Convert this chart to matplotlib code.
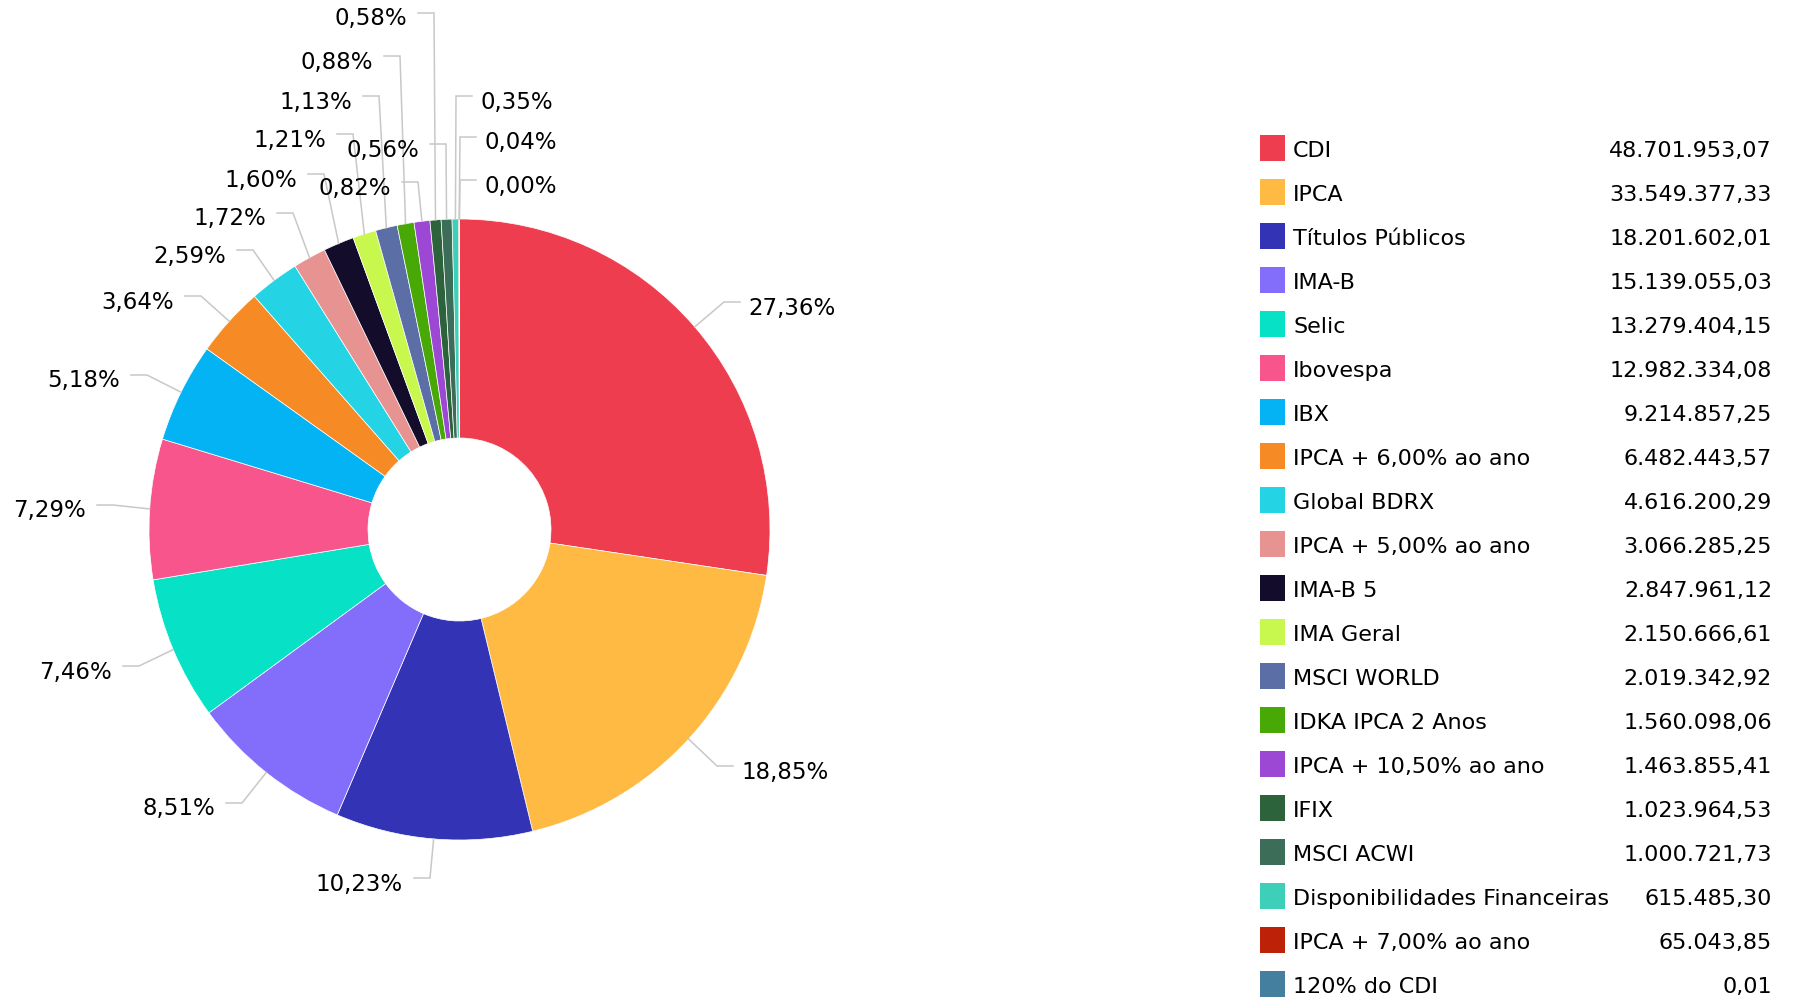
import matplotlib
matplotlib.use("Agg")
import matplotlib.pyplot as plt
from matplotlib.patches import Rectangle
import numpy as np

# carteira por indexador
names = ['CDI', 'IPCA', 'Títulos Públicos', 'IMA-B', 'Selic', 'Ibovespa', 'IBX',
         'IPCA + 6,00% ao ano', 'Global BDRX', 'IPCA + 5,00% ao ano', 'IMA-B 5',
         'IMA Geral', 'MSCI WORLD', 'IDKA IPCA 2 Anos', 'IPCA + 10,50% ao ano',
         'IFIX', 'MSCI ACWI', 'Disponibilidades Financeiras', 'IPCA + 7,00% ao ano',
         '120% do CDI']
values = [48701953.07, 33549377.33, 18201602.01, 15139055.03, 13279404.15,
          12982334.08, 9214857.25, 6482443.57, 4616200.29, 3066285.25,
          2847961.12, 2150666.61, 2019342.92, 1560098.06, 1463855.41,
          1023964.53, 1000721.73, 615485.30, 65043.85, 0.01]
colors = ['#EF3D50', '#FFBA44', '#3333B6', '#836EFB', '#07E2C6', '#F8558D',
          '#03B3F3', '#F68B25', '#25D4E4', '#E69392', '#130C2A', '#C8F84E',
          '#5B6FA6', '#47A806', '#9D48D4', '#2C633A', '#3C6D58', '#3DCFB7',
          '#BD2108', '#457F9F']

# where each label's connector starts (pixels from top-left) and which side the text sits
label_pos = [(740, 302), (733, 766), (414, 878), (226, 803), (123, 666),
             (97, 505), (131, 375), (185, 296), (237, 250), (277, 213),
             (308, 174), (337, 134), (363, 96), (384, 56), (402, 182),
             (418, 13), (430, 144), (472, 96), (476, 137), (476, 180)]
label_side = ['R', 'R', 'L', 'L', 'L', 'L', 'L', 'L', 'L', 'L',
              'L', 'L', 'L', 'L', 'L', 'L', 'L', 'R', 'R', 'R']

W, H = 1801, 1000
cx, cy = 459.5, H - 529.5
r_out, r_in = 310.5, 91.5


def br(v, dec=2):
    s = f"{v:,.{dec}f}"
    return s.replace(',', 'X').replace('.', ',').replace('X', '.')


fig = plt.figure(figsize=(W / 100, H / 100), dpi=100)
ax = fig.add_axes([0, 0, 1, 1])

wedges, _ = ax.pie(values, colors=colors, startangle=90, counterclock=False,
                   center=(cx, cy), radius=r_out,
                   wedgeprops=dict(width=r_out - r_in, linewidth=0.5, edgecolor='white'))
ax.set_xlim(0, W)
ax.set_ylim(0, H)
ax.set_aspect('auto')
ax.axis('off')

total = sum(values)
for w, v, (lx, ly), side in zip(wedges, values, label_pos, label_side):
    mid = np.deg2rad((w.theta1 + w.theta2) / 2)
    ex = cx + r_out * np.cos(mid)
    ey = cy + r_out * np.sin(mid)
    ly = H - ly
    bx = lx - 16 if side == 'R' else lx + 16
    ax.plot([lx, bx, ex], [ly, ly, ey], color='#c8c8c8', lw=1.1,
            solid_joinstyle='miter', zorder=1)
    txt = br(v / total * 100) + '%'
    if side == 'R':
        ax.text(lx + 8, ly - 12.5, txt, ha='left', va='baseline', fontsize=16.5, color='black')
    else:
        ax.text(lx - 11, ly - 12.5, txt, ha='right', va='baseline', fontsize=16.5, color='black')

# legenda
for i, (n, v, c) in enumerate(zip(names, values, colors)):
    yc = H - (148 + 44 * i)
    ax.add_patch(Rectangle((1260, yc - 13), 25, 26, facecolor=c, edgecolor='none'))
    ax.text(1293, yc - 9.3, n, ha='left', va='baseline', fontsize=16, color='black')
    ax.text(1772, yc - 9.3, br(v), ha='right', va='baseline', fontsize=16, color='black')

fig.savefig('out.png', dpi=100, facecolor='white')
